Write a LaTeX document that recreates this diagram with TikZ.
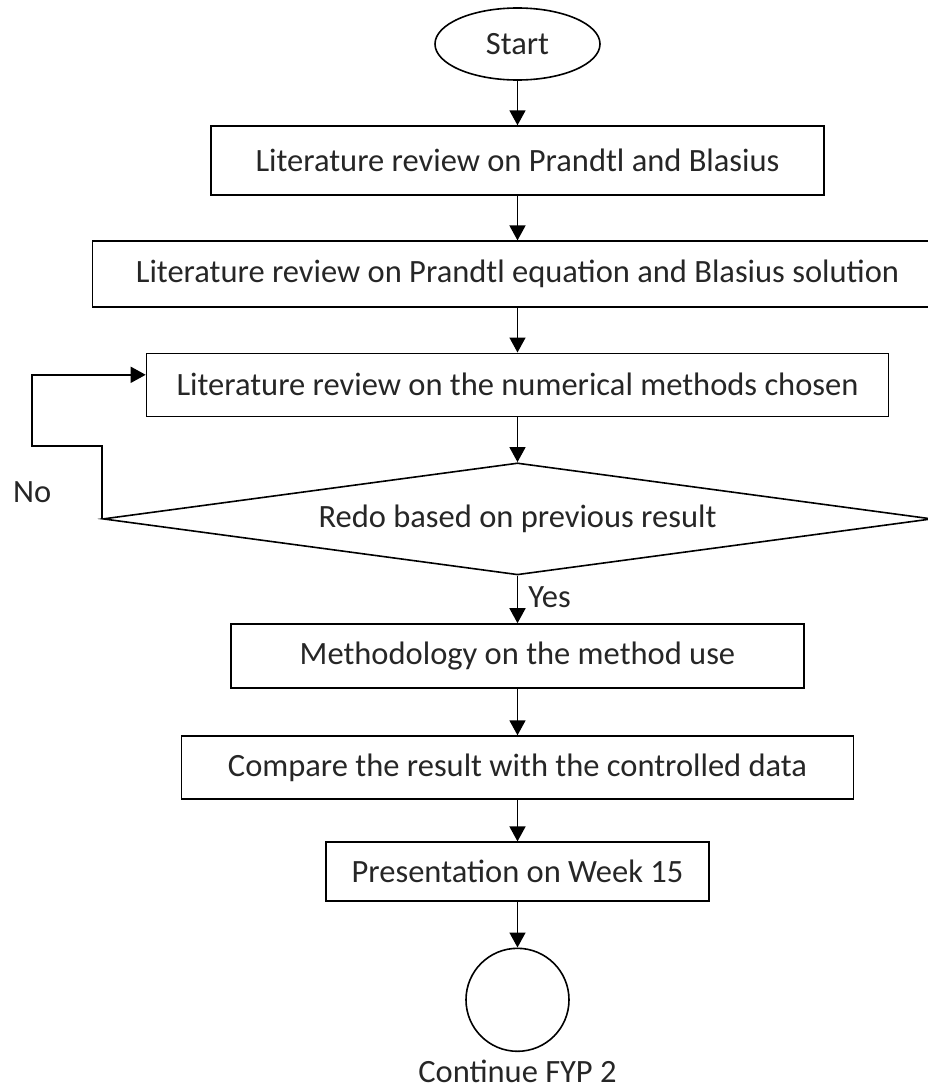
\documentclass[tikz,border=0pt]{standalone}
\usepackage{fontspec}
\setmainfont{Carlito}
\usetikzlibrary{positioning, shapes.geometric, arrows.meta}
\tikzset{
	every node/.append style={
		font={\fontsize{32.5}{39}\selectfont},
		text=black!85,
	},
	flow/.append style={
		draw,
		align = center,
		line width=1.6pt,
		inner sep=0pt,
	},
	stepbox/.append style={
		flow,
		rectangle,
	},
	terminal/.append style={
		flow,
		ellipse,
	},
	decision/.append style={
		flow,
		diamond,
		aspect=7.4,
	},
	link/.append style={
		line width=1.6pt,
		-{Triangle[width=16pt,length=15pt]},
	},
	labe/.append style={
		inner sep=0pt,
	}
}

\begin{document}
\begin{tikzpicture}
			\useasboundingbox (0,0) rectangle (928pt,-1090pt);

			\node(start)[terminal, minimum width=165pt, minimum height=72pt] at (517.5pt,-44pt) {Start};
			\node(litone)[stepbox, minimum width=613pt, minimum height=69pt, below=44.5pt of start]{Literature review on Prandtl and Blasius};
			\node(littwo)[stepbox, minimum width=850pt, minimum height=66pt, below=44.5pt of litone]{Literature review on Prandtl equation and Blasius solution};
			\node(litnum)[stepbox, minimum width=742pt, minimum height=63pt, below=44.5pt of littwo]{Literature review on the numerical methods chosen};
			\node(redo)[decision, minimum width=829pt, minimum height=112pt, below=45pt of litnum]{Redo based on previous result};
			\node(method)[stepbox, minimum width=573pt, minimum height=64pt, below=47.5pt of redo]{Methodology on the method use};
			\node(compare)[stepbox, minimum width=672pt, minimum height=63pt, below=46.5pt of method]{Compare the result with the controlled data};
			\node(present)[stepbox, minimum width=383pt, minimum height=59pt, below=41.5pt of compare]{Presentation on Week 15};
			\node(fyp)[flow, circle, minimum size=103pt, below=45.5pt of present]{};
			\node(fyplbl)[labe, below=8pt of fyp]{Continue FYP 2};

			\draw[link] (start) -- (litone);
			\draw[link] (litone) -- (littwo);
			\draw[link] (littwo) -- (litnum);
			\draw[link] (litnum) -- (redo);
			\draw[link] (redo) -- node(yes)[labe, right=10pt, pos=0.45]{Yes} (method);
			\draw[link] (method) -- (compare);
			\draw[link] (compare) -- (present);
			\draw[link] (present) -- (fyp);

			% loop back when the result must be redone
			\coordinate(noknee) at ([yshift=73pt]redo.west);
			\coordinate(noleft) at ([xshift=-70pt]noknee);
			\draw[link] (redo.west) -- (noknee) -- (noleft) |- ([yshift=10pt]litnum.west);
			\node(no)[labe] at ([yshift=-46pt]noleft) {No};

		\end{tikzpicture}
\end{document}
